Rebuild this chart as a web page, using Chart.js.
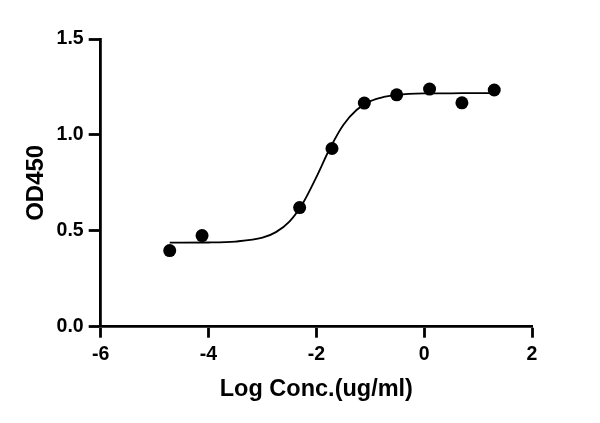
<!DOCTYPE html>
<html>
<head>
<meta charset="utf-8">
<script src="https://cdn.jsdelivr.net/npm/chart.js@4"></script>
<style>
  html, body { margin: 0; padding: 0; background: #fff; }
  #wrap { width: 600px; height: 423px; }
</style>
</head>
<body>
<div id="wrap"><canvas id="c"></canvas></div>
<script>
// Measured points (log concentration, OD450)
const logConc = [-4.72, -4.12, -2.31, -1.71, -1.11, -0.51, 0.10, 0.70, 1.30];
const od450   = [0.397, 0.475, 0.621, 0.929, 1.166, 1.209, 1.239, 1.167, 1.234];

// Fitted curve
const curveX = [-4.72, -4.0, -3.5, -3.0, -2.75, -2.5, -2.25, -2.0, -1.75, -1.5, -1.25, -1.0, -0.75, -0.5, 0.0, 0.5, 1.0, 1.30];
const curveY = [0.438, 0.439, 0.444, 0.464, 0.493, 0.548, 0.644, 0.780, 0.929, 1.052, 1.131, 1.176, 1.198, 1.209, 1.216, 1.217, 1.218, 1.218];

// Axis ticks
const xTicks = [-6, -4, -2, 0, 2];
const yTicks = [0.0, 0.5, 1.0, 1.5];

const FONT = "'Liberation Sans', Arial, Helvetica, sans-serif";

new Chart(document.getElementById('c'), {
  type: 'scatter',
  data: {
    datasets: [
      {
        label: 'fit',
        data: curveX.map((x, i) => ({ x: x, y: curveY[i] })),
        showLine: true,
        borderColor: '#000',
        borderWidth: 1.8,
        pointRadius: 0,
        cubicInterpolationMode: 'monotone',
        fill: false,
        order: 2
      },
      {
        label: 'OD450',
        data: logConc.map((x, i) => ({ x: x, y: od450[i] })),
        showLine: false,
        pointRadius: 6.5,
        pointBackgroundColor: '#000',
        pointBorderColor: '#000',
        pointBorderWidth: 0,
        order: 1
      }
    ]
  },
  options: {
    responsive: true,
    maintainAspectRatio: false,
    animation: false,
    layout: { padding: { top: 39, right: 68, bottom: 0, left: 0 } },
    plugins: { legend: { display: false }, tooltip: { enabled: false } },
    scales: {
      x: {
        type: 'linear',
        min: -6, max: 2,
        afterBuildTicks: (s) => { s.ticks = xTicks.map(v => ({ value: v })); },
        afterFit: (s) => { s.height = 96.3; },
        border: { display: true, color: '#000', width: 2.8 },
        grid: { display: true, drawOnChartArea: false, drawTicks: true, tickLength: 11, tickWidth: 2.8, tickColor: '#000' },
        ticks: {
          color: '#000', padding: 5,
          font: { family: FONT, size: 19.5, weight: 'bold' },
          callback: (v) => String(v)
        },
        title: {
          display: true, text: 'Log Conc.(ug/ml)', color: '#000',
          font: { family: FONT, size: 23.5, weight: 'bold' },
          padding: { top: 0, bottom: 19 }
        }
      },
      y: {
        type: 'linear',
        min: 0, max: 1.5,
        afterBuildTicks: (s) => { s.ticks = yTicks.map(v => ({ value: v })); },
        afterFit: (s) => { s.width = 100.7; },
        border: { display: true, color: '#000', width: 2.8 },
        grid: { display: true, drawOnChartArea: false, drawTicks: true, tickLength: 12, tickWidth: 2.8, tickColor: '#000' },
        ticks: {
          color: '#000', padding: 5,
          font: { family: FONT, size: 19.5, weight: 'bold' },
          callback: (v) => Number(v).toFixed(1)
        },
        title: {
          display: true, text: 'OD450', color: '#000',
          font: { family: FONT, size: 24, weight: 'bold' },
          padding: { top: 21.5, bottom: 0 }
        }
      }
    }
  }
});
</script>
</body>
</html>
